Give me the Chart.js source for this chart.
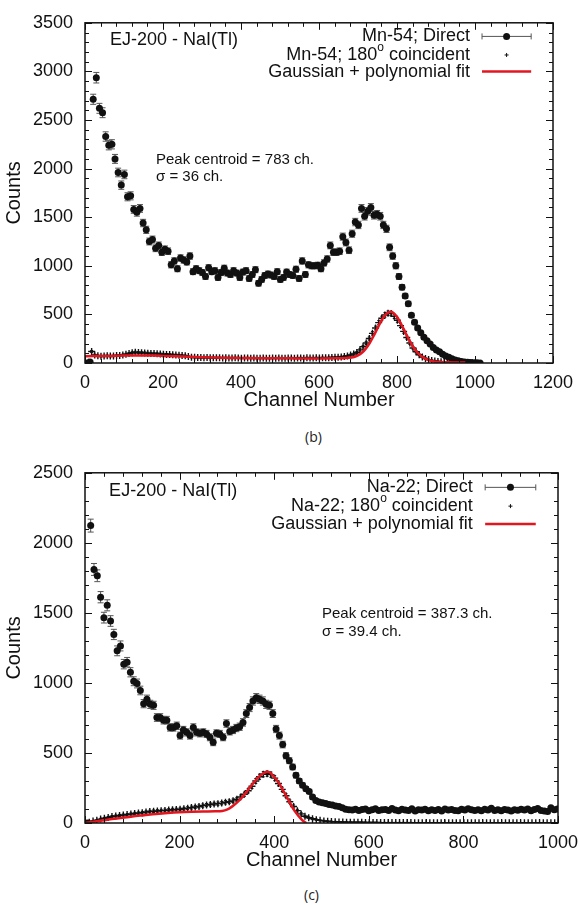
<!DOCTYPE html>
<html>
<head>
<meta charset="utf-8">
<script src="https://cdn.jsdelivr.net/npm/chart.js@4.4.1/dist/chart.umd.min.js"></script>
<style>
  html, body { margin: 0; padding: 0; background: #fff; }
  body { width: 578px; height: 905px; position: relative; overflow: hidden; }
  .panel { position: absolute; left: 0; }
  #panelB { top: 0; }
  #panelC { top: 450px; }
  .caption { position: absolute; font-family: "Open Sans", "DejaVu Sans", sans-serif; font-size: 14px; color: #222; }
</style>
</head>
<body>
<div class="panel" id="panelB"><canvas id="chartB" width="600" height="420"></canvas></div>
<div class="caption" style="left:305px; top:427px;">(b)</div>
<div class="panel" id="panelC"><canvas id="chartC" width="600" height="430"></canvas></div>
<div class="caption" style="left:304px; top:885px;">(c)</div>
<script>
// ---- (b) Mn-54 ----
// channel of bin i = start + i * bin
const mnDirectStart = 5, mnDirectBin = 8;
const mnDirect = [
  0, 10, 2713, 2935, 2620, 2575, 2330, 2240, 2250, 2100,      // 5..77
  1960, 1830, 1940, 1710, 1720, 1580, 1550, 1590, 1440, 1370, // 85..157
  1250, 1270, 1180, 1210, 1140, 1170, 1150, 1010, 1050, 970,  // 165..237
  1080, 1060, 1040, 1100, 940, 970, 950, 930, 890, 980,       // 245..317
  940, 950, 880, 930, 975, 925, 910, 950, 925, 880,           // 325..397
  935, 950, 870, 910, 960, 820, 860, 900, 915, 905,           // 405..477
  890, 940, 860, 880, 935, 910, 900, 965, 870, 1050,          // 485..557
  910, 1010, 1000, 1000, 1005, 970, 1030, 1070, 1210, 1140,   // 565..637
  1140, 1150, 1300, 1240, 1160, 1330, 1450, 1420, 1590, 1510, // 645..717
  1560, 1600, 1520, 1530, 1510, 1420, 1380, 1190, 1100, 1000, // 725..797
  890, 780, 690, 610, 490, 420, 360, 310, 265, 230,           // 805..877
  195, 160, 135, 115, 90, 72, 58, 45, 32, 22,                 // 885..957
  15, 10, 7, 5, 3, 2, 1                                       // 965..1013
];
const mnCoincStart = 1, mnCoincBin = 8;
const mnCoinc = [
  0, 8, 118, 82, 74, 70, 72, 74, 71, 73,            // 1..73
  76, 78, 82, 90, 98, 106, 110, 107, 106, 104,      // 81..153
  101, 99, 97, 96, 93, 90, 88, 87, 84, 82,          // 161..233
  80, 77, 74, 66, 60, 58, 57, 56, 55, 56,           // 241..313
  54, 55, 53, 54, 52, 53, 52, 51, 53, 52,           // 321..393
  50, 51, 52, 50, 51, 49, 50, 51, 50, 49,           // 401..473
  51, 50, 52, 50, 49, 51, 52, 50, 51, 52,           // 481..553
  50, 53, 52, 51, 53, 52, 54, 53, 55, 56,           // 561..633
  58, 60, 62, 68, 72, 82, 92, 108, 135, 168,        // 641..713
  205, 252, 305, 360, 415, 460, 495, 512, 508, 480, // 721..793
  440, 385, 325, 262, 205, 155, 115, 85, 62, 46,    // 801..873
  35, 27, 21, 16, 13, 10, 8, 7, 6, 5,               // 881..953
  4, 4, 3, 3, 2, 2                                  // 961..1001
];
const mnFitCh = [0, 25, 50, 75, 100, 125, 150, 175, 200, 250, 300, 350, 400, 450, 500, 550, 600, 650,
  670, 690, 700, 710, 720, 730, 740, 750, 760, 770, 780, 785, 790, 800, 810, 820, 830, 840, 850, 860,
  870, 880, 890, 900, 925, 950, 975];
const mnFit = [70, 71, 72, 74, 76, 77, 77, 76, 73, 66, 59, 54, 51, 49, 48, 47, 47, 48,
  52, 62, 78, 105, 148, 205, 278, 358, 435, 495, 524, 527, 518, 475, 405, 325, 245, 175, 118, 78,
  50, 32, 20, 13, 7, 5, 4];

// ---- (c) Na-22 ----
const naDirectStart = 5, naDirectBin = 7;
const naDirect = [
  0, 2123, 1810, 1765, 1612, 1466, 1554, 1442, 1346, 1229, // 5..68
  1264, 1134, 1148, 1076, 1012, 996, 946, 852, 883, 847,   // 75..138
  840, 753, 753, 734, 734, 682, 682, 694, 624, 664,        // 145..208
  647, 624, 682, 647, 640, 647, 636, 612, 576, 640,        // 215..278
  636, 612, 710, 654, 664, 678, 687, 718, 781, 824,        // 285..348
  871, 894, 883, 871, 847, 840, 781, 671, 624, 560,        // 355..418
  480, 445, 400, 340, 300, 270, 245, 225, 185, 160,        // 425..488
  150, 145, 140, 132, 128, 122, 118, 108, 98, 95,          // 495..558
  92, 98, 90, 96, 100, 88, 94, 102, 90, 95,                // 565..628
  97, 89, 104, 92, 88, 98, 93, 90, 101, 86,                // 635..698
  95, 92, 99, 88, 94, 90, 97, 85, 100, 93,                 // 705..768
  96, 90, 87, 98, 92, 101, 95, 89, 94, 88,                 // 775..838
  99, 92, 105, 90, 94, 88, 97, 93, 86, 95,                 // 845..908
  91, 98, 92, 100, 88, 96, 104, 90, 85, 82,                // 915..978
  108, 95, 100                                             // 985..999
];
const naCoincStart = 1, naCoincBin = 8;
const naCoinc = [
  0, 6, 14, 20, 28, 34, 40, 46, 50, 54,               // 1..73
  57, 60, 64, 68, 71, 74, 78, 82, 84, 86,             // 81..153
  88, 90, 93, 95, 96, 98, 102, 106, 110, 114,         // 161..233
  118, 124, 128, 132, 136, 138, 142, 148, 152, 158,   // 241..313
  170, 186, 205, 230, 262, 300, 330, 348, 352, 345,   // 321..393
  320, 282, 240, 195, 152, 118, 88, 65, 48, 38,       // 401..473
  30, 24, 19, 15, 12, 10, 9, 8, 7, 6,                 // 481..553
  6, 5, 5, 5, 4, 4, 4, 4, 3, 3,                       // 561..633
  3, 3, 3, 3, 3, 3, 3, 2, 2, 2,                       // 641..713
  2, 2, 2, 2, 2, 2, 2, 2, 2, 2,                       // 721..793
  2, 2, 2, 2, 2, 2, 2, 2, 2, 2,                       // 801..873
  2, 2, 2, 2, 2, 2, 2, 2, 2, 2,                       // 881..953
  2, 2, 2, 2, 2, 2                                    // 961..1001
];
const naFitCh = [0, 25, 50, 75, 100, 125, 150, 175, 200, 225, 250, 275, 290, 300, 310, 320, 330, 340,
  350, 360, 370, 380, 385, 390, 400, 410, 420, 430, 440, 450, 460, 468];
const naFit = [0, 12, 25, 36, 47, 56, 65, 72, 77, 80, 82, 83, 86, 95, 115, 142, 175, 215,
  260, 302, 338, 360, 365, 363, 328, 285, 225, 165, 102, 55, 18, 0];

const FONT = '"Liberation Sans", Arial, Helvetica, sans-serif';
const RED = "#e3161f";
const INK = "#111";

const binned = (start, bin, values) => values.map((v, i) => ({ x: start + i * bin, y: v }));
const zip = (xs, ys) => xs.map((x, i) => ({ x: x, y: ys[i] }));

// vertical error bars (Poisson, sqrt of counts) drawn under each point set
const errorBars = {
  id: "errorBars",
  beforeDatasetDraw(chart, args) {
    const ds = chart.data.datasets[args.index];
    if (!ds.errorBars) return;
    const { ctx, chartArea: a } = chart;
    const xs = chart.scales.x, ys = chart.scales.y;
    const cap = ds.errorBars.cap;
    ctx.save();
    ctx.beginPath();
    ctx.rect(a.left, a.top, a.right - a.left, a.bottom - a.top);
    ctx.clip();
    ctx.strokeStyle = ds.errorBars.color;
    ctx.lineWidth = 1;
    ctx.beginPath();
    ds.data.forEach((p) => {
      const e = Math.sqrt(p.y);
      if (!e) return;
      const px = xs.getPixelForValue(p.x);
      const lo = ys.getPixelForValue(p.y - e);
      const hi = ys.getPixelForValue(p.y + e);
      ctx.moveTo(px, lo); ctx.lineTo(px, hi);
      ctx.moveTo(px - cap, lo); ctx.lineTo(px + cap, lo);
      ctx.moveTo(px - cap, hi); ctx.lineTo(px + cap, hi);
    });
    ctx.stroke();
    ctx.restore();
  },
};

const drawLabel = (ctx, parts, right, py) => {
  const big = "18px " + FONT, small = "12px " + FONT;
  let total = 0;
  parts.forEach((p) => { ctx.font = p.sup ? small : big; total += ctx.measureText(p.t).width; });
  let cx = right - total;
  parts.forEach((p) => {
    ctx.font = p.sup ? small : big;
    ctx.fillText(p.t, cx, p.sup ? py - 7 : py);
    cx += ctx.measureText(p.t).width;
  });
};

// gnuplot-like frame with inward ticks, labels and key
const decor = {
  id: "decor",
  afterDatasetsDraw(chart, args, o) {
    const { ctx, chartArea: a } = chart;
    const x = chart.scales.x, y = chart.scales.y;
    ctx.save();
    ctx.strokeStyle = INK;
    ctx.lineWidth = 1.5;
    ctx.strokeRect(a.left, a.top, a.right - a.left, a.bottom - a.top);
    ctx.lineWidth = 1;
    ctx.beginPath();
    for (let v = x.min; v <= x.max; v += o.xMinor) {
      const len = v % o.xMajor === 0 ? 7 : 4;
      const px = Math.round(x.getPixelForValue(v)) + 0.5;
      ctx.moveTo(px, a.bottom); ctx.lineTo(px, a.bottom - len);
      ctx.moveTo(px, a.top); ctx.lineTo(px, a.top + len);
    }
    for (let v = y.min; v <= y.max; v += o.yMinor) {
      const len = v % o.yMajor === 0 ? 7 : 4;
      const py = Math.round(y.getPixelForValue(v)) + 0.5;
      ctx.moveTo(a.left, py); ctx.lineTo(a.left + len, py);
      ctx.moveTo(a.right, py); ctx.lineTo(a.right - len, py);
    }
    ctx.stroke();

    ctx.fillStyle = INK;
    ctx.textBaseline = "middle";
    ctx.textAlign = "left";
    ctx.font = "18px " + FONT;
    ctx.fillText(o.heading.text, x.getPixelForValue(o.heading.x), y.getPixelForValue(o.heading.y));
    ctx.font = "15px " + FONT;
    o.notes.forEach((n) => ctx.fillText(n.text, x.getPixelForValue(n.x), y.getPixelForValue(n.y)));

    const L = o.key;
    const tr = x.getPixelForValue(L.textRight);
    const s0 = x.getPixelForValue(L.sampleLeft);
    const s1 = x.getPixelForValue(L.sampleRight);
    const sm = (s0 + s1) / 2;
    L.rows.forEach((rowY, i) => {
      const py = y.getPixelForValue(rowY);
      drawLabel(ctx, L.labels[i], tr, py);
      if (i === 0) {
        ctx.strokeStyle = "#555";
        ctx.beginPath();
        ctx.moveTo(s0, py); ctx.lineTo(s1, py);
        ctx.moveTo(s0, py - 3); ctx.lineTo(s0, py + 3);
        ctx.moveTo(s1, py - 3); ctx.lineTo(s1, py + 3);
        ctx.stroke();
        ctx.beginPath();
        ctx.arc(sm, py, 3.5, 0, Math.PI * 2);
        ctx.fill();
      } else if (i === 1) {
        ctx.strokeStyle = INK;
        ctx.beginPath();
        ctx.moveTo(sm - 2, py); ctx.lineTo(sm + 2, py);
        ctx.moveTo(sm, py - 2); ctx.lineTo(sm, py + 2);
        ctx.stroke();
      } else {
        ctx.strokeStyle = RED;
        ctx.lineWidth = 2.5;
        ctx.beginPath();
        ctx.moveTo(s0, py); ctx.lineTo(s1, py);
        ctx.stroke();
        ctx.lineWidth = 1;
      }
    });
    ctx.restore();
  },
};

const plain = (v) => String(v);

const makeChart = (id, o) =>
  new Chart(document.getElementById(id), {
    type: "scatter",
    data: {
      datasets: [
        {
          label: o.directLabel, data: o.direct,
          pointRadius: 3.5, pointHoverRadius: 3.5, backgroundColor: INK, borderWidth: 0,
          order: 3, errorBars: { color: "#555", cap: 3 },
        },
        {
          label: o.coincLabel, data: o.coinc,
          pointStyle: "cross", pointRadius: 3.5, borderColor: INK, borderWidth: 1.4,
          order: 2, errorBars: { color: INK, cap: 1.5 },
        },
        {
          type: "line", label: "Gaussian + polynomial fit", data: o.fit,
          showLine: true, borderColor: RED, borderWidth: 2.5, pointRadius: 0,
          cubicInterpolationMode: "monotone", fill: false, order: 1,
        },
      ],
    },
    options: {
      responsive: false,
      animation: false,
      events: [],
      layout: { padding: { top: o.padTop, left: 0, right: 0, bottom: 0 } },
      plugins: { legend: { display: false }, tooltip: { enabled: false }, decor: o.decor },
      scales: {
        x: {
          type: "linear", position: "bottom", min: 0, max: o.xMax,
          grid: { display: false, drawTicks: false }, border: { display: false },
          ticks: { stepSize: 200, padding: 9, color: INK, font: { family: FONT, size: 18 }, maxRotation: 0, autoSkip: false, callback: plain },
          title: { display: true, text: "Channel Number", color: INK, font: { family: FONT, size: 20 }, padding: { top: 0, bottom: 8 } },
          afterFit: (s) => { s.height = o.xAxisHeight; },
        },
        y: {
          type: "linear", position: "left", min: 0, max: o.yMax,
          grid: { display: false, drawTicks: false }, border: { display: false },
          ticks: { stepSize: 500, padding: 12, color: INK, font: { family: FONT, size: 18 }, callback: plain },
          title: { display: true, text: "Counts", color: INK, font: { family: FONT, size: 20 }, padding: { top: 2, bottom: 0 } },
          afterFit: (s) => { s.width = 85; },
        },
        y2: {
          type: "linear", position: "right", min: 0, max: o.yMax,
          grid: { display: false, drawTicks: false }, border: { display: false },
          ticks: { display: false },
          afterFit: (s) => { s.width = o.rightWidth; },
        },
      },
    },
    plugins: [errorBars, decor],
  });

makeChart("chartB", {
  directLabel: "Mn-54; Direct",
  coincLabel: "Mn-54; 180° coincident",
  direct: binned(mnDirectStart, mnDirectBin, mnDirect),
  coinc: binned(mnCoincStart, mnCoincBin, mnCoinc),
  fit: zip(mnFitCh, mnFit),
  xMax: 1200, yMax: 3500,
  padTop: 15, xAxisHeight: 57, rightWidth: 47,
  decor: {
    xMajor: 200, xMinor: 40, yMajor: 500, yMinor: 100,
    heading: { text: "EJ-200 - NaI(Tl)", x: 64, y: 3320 },
    notes: [
      { text: "Peak centroid = 783 ch.", x: 182, y: 2093 },
      { text: "σ = 36 ch.", x: 182, y: 1911 },
    ],
    key: {
      textRight: 987, sampleLeft: 1018, sampleRight: 1144, rows: [3360, 3169, 2998],
      labels: [
        [{ t: "Mn-54; Direct" }],
        [{ t: "Mn-54; 180" }, { t: "o", sup: true }, { t: " coincident" }],
        [{ t: "Gaussian + polynomial fit" }],
      ],
    },
  },
});

makeChart("chartC", {
  directLabel: "Na-22; Direct",
  coincLabel: "Na-22; 180° coincident",
  direct: binned(naDirectStart, naDirectBin, naDirect),
  coinc: binned(naCoincStart, naCoincBin, naCoinc),
  fit: zip(naFitCh, naFit),
  xMax: 1000, yMax: 2500,
  padTop: 19, xAxisHeight: 57, rightWidth: 42,
  decor: {
    xMajor: 200, xMinor: 40, yMajor: 500, yMinor: 100,
    heading: { text: "EJ-200 - NaI(Tl)", x: 51, y: 2368 },
    notes: [
      { text: "Peak centroid = 387.3 ch.", x: 501, y: 1492 },
      { text: "σ = 39.4 ch.", x: 501, y: 1365 },
    ],
    key: {
      textRight: 820, sampleLeft: 846, sampleRight: 953, rows: [2396, 2262, 2135],
      labels: [
        [{ t: "Na-22; Direct" }],
        [{ t: "Na-22; 180" }, { t: "o", sup: true }, { t: " coincident" }],
        [{ t: "Gaussian + polynomial fit" }],
      ],
    },
  },
});
</script>
</body>
</html>
